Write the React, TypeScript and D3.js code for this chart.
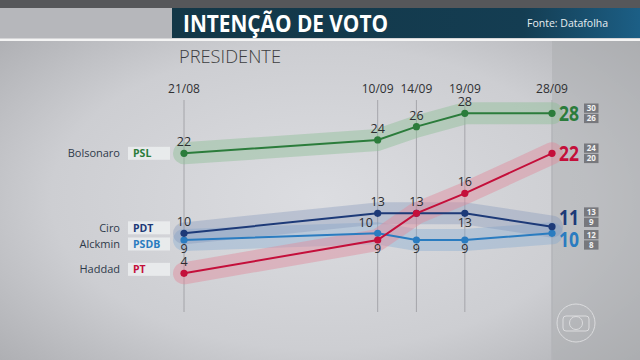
import React from 'react';
import * as d3 from 'd3';

// poll dates (Datafolha, 2018)
const dates = ['21/08', '10/09', '14/09', '19/09', '28/09'];
const dateValues = [
  new Date(2018, 7, 21),
  new Date(2018, 8, 10),
  new Date(2018, 8, 14),
  new Date(2018, 8, 19),
  new Date(2018, 8, 28),
];

const names = ['Alckmin', 'Ciro', 'Haddad', 'Bolsonaro'];
const parties = ['PSDB', 'PDT', 'PT', 'PSL'];

const alckmin = [9, 10, 9, 9, 10];
const ciro = [10, 13, 13, 13, 11];
const haddad = [4, 9, 13, 16, 22];
const bolsonaro = [22, 24, 26, 28, 28];

// margin of error shown next to the last value
const upper = [12, 13, 24, 30];
const lower = [8, 9, 20, 26];

// where each point's label sits: a = above, b = below, l = above-left, n = none
const labelSides = [
  ['b', 'l', 'b', 'b', 'n'],
  ['a', 'a', 'a', 'b', 'n'],
  ['a', 'b', 'n', 'a', 'n'],
  ['a', 'a', 'a', 'a', 'n'],
];

const W = 640;
const H = 360;

const seriesStyle = [
  { color: '#2a7cc0', band: '#7aa6d0', bandOpacity: 0.35, nameDy: 4, endDy: 6.5 },
  { color: '#1d3a78', band: '#7f93b8', bandOpacity: 0.35, nameDy: -5.5, endDy: -9.5 },
  { color: '#c40f3a', band: '#e08a9c', bandOpacity: 0.45, nameDy: -4, endDy: 0 },
  { color: '#2b7c3b', band: '#8fbf97', bandOpacity: 0.45, nameDy: 0, endDy: 0 },
];

export default function App() {
  const x = d3.scaleTime()
    .domain([dateValues[0], dateValues[dateValues.length - 1]])
    .range([184, 552]);
  const y = d3.scaleLinear().domain([0, 28]).range([300, 113.3]);

  const all = [alckmin, ciro, haddad, bolsonaro];
  const line = d3.line<number>()
    .x((d, i) => x(dateValues[i]))
    .y((d) => y(d));

  return (
    <svg width={W} height={H} style={{ position: 'absolute', left: 0, top: 0 }}
      fontFamily="'Open Sans', sans-serif">
      <defs>
        <radialGradient id="bg" cx="0.5" cy="0.55" r="0.7">
          <stop offset="0" stopColor="#dcdde1" />
          <stop offset="0.6" stopColor="#cdced2" />
          <stop offset="1" stopColor="#abacb0" />
        </radialGradient>
        <linearGradient id="head" x1="0" x2="1" y1="0" y2="0">
          <stop offset="0" stopColor="#133747" />
          <stop offset="0.75" stopColor="#143d52" />
          <stop offset="1" stopColor="#1c5f86" />
        </linearGradient>
      </defs>
      <rect width={W} height={H} fill="url(#bg)" />
      {/* darker panel on the right */}
      <rect x={552} y={41} width={W - 552} height={H - 41} fill="#a9aaae" opacity={0.45} />

      {/* header */}
      <rect width={W} height={8} fill="#56575a" />
      <rect y={8} width={W} height={31} fill="#b6b7bb" />
      <rect x={172} y={8} width={W - 172} height={30} fill="url(#head)" />
      <rect y={38.5} width={W} height={2.5} fill="#f4f4f4" />
      <text x={183} y={32} fill="#fff" fontSize={23} fontWeight={700}
        textLength={205} lengthAdjust="spacingAndGlyphs">INTENÇÃO DE VOTO</text>
      <text x={527} y={27} fill="#e8eef2" fontSize={10.5}>Fonte: Datafolha</text>
      <text x={179} y={63} fill="#3c3d40" fontSize={19} fontWeight={300}
        textLength={102} lengthAdjust="spacingAndGlyphs">PRESIDENTE</text>

      {/* date grid */}
      {dateValues.map((d, i) => (
        <g key={dates[i]}>
          <line x1={x(d)} x2={x(d)} y1={100} y2={i === 4 ? H : 312}
            stroke={i === 4 ? '#b3b4b8' : '#9a9ba0'} strokeWidth={i === 4 ? 1.5 : 0.8} />
          <text x={x(d)} y={93} textAnchor="middle" fontSize={12} fill="#2f3033">{dates[i]}</text>
        </g>
      ))}

      {/* bands */}
      {all.map((s, k) => (
        <path key={'band' + k} d={line(s) ?? ''} fill="none" stroke={seriesStyle[k].band}
          strokeOpacity={seriesStyle[k].bandOpacity} strokeWidth={22}
          strokeLinecap="round" strokeLinejoin="round" />
      ))}

      {/* lines, dots, labels */}
      {all.map((s, k) => (
        <g key={'line' + k}>
          <path d={line(s) ?? ''} fill="none" stroke={seriesStyle[k].color} strokeWidth={2} />
          {s.map((v, i) => (
            <circle key={i} cx={x(dateValues[i])} cy={y(v)} r={3.6} fill={seriesStyle[k].color} />
          ))}
          {s.map((v, i) => {
            const side = labelSides[k][i];
            if (side === 'n') return null;
            const px = x(dateValues[i]) + (side === 'l' ? -12 : 0);
            const py = y(v) + (side === 'b' ? 13.5 : side === 'l' ? -6 : -7);
            return (
              <text key={'t' + i} x={px} y={py} textAnchor="middle" fontSize={12.5} fill="#2c2d30">{v}</text>
            );
          })}
        </g>
      ))}

      {/* names on the left */}
      {all.map((s, k) => {
        const cy = y(s[0]) + seriesStyle[k].nameDy;
        return (
          <g key={'name' + k}>
            <text x={120} y={cy + 4} textAnchor="end" fontSize={11} fill="#2e3a4a">{names[k]}</text>
            <rect x={128} y={cy - 6.5} width={42} height={13} fill="#eceef0" opacity={0.85} />
            <text x={133} y={cy + 4} fontSize={10.5} fontWeight={700} fill={seriesStyle[k].color}>{parties[k]}</text>
          </g>
        );
      })}

      {/* final values with margin of error */}
      {all.map((s, k) => {
        const cy = y(s[s.length - 1]) + seriesStyle[k].endDy;
        return (
          <g key={'end' + k}>
            <text x={559} y={cy + 7.5} fontSize={21} fontWeight={700} fill={seriesStyle[k].color}
              textLength={20} lengthAdjust="spacingAndGlyphs">{s[s.length - 1]}</text>
            <rect x={584} y={cy - 9.8} width={14.5} height={9.3} fill="#77787d" />
            <rect x={584} y={cy + 0.5} width={14.5} height={9.3} fill="#77787d" />
            <text x={591.3} y={cy - 2.2} textAnchor="middle" fontSize={8} fontWeight={700} fill="#f2f2f2">{upper[k]}</text>
            <text x={591.3} y={cy + 8.1} textAnchor="middle" fontSize={8} fontWeight={700} fill="#f2f2f2">{lower[k]}</text>
          </g>
        );
      })}

      {/* broadcaster logo */}
      <g fill="none" stroke="#e6e6e8" strokeWidth={1} opacity={0.8}>
        <circle cx={576} cy={323} r={19} />
        <rect x={563} y={316} width={26} height={15} rx={3} />
        <circle cx={576} cy={323} r={6.5} />
      </g>
    </svg>
  );
}
